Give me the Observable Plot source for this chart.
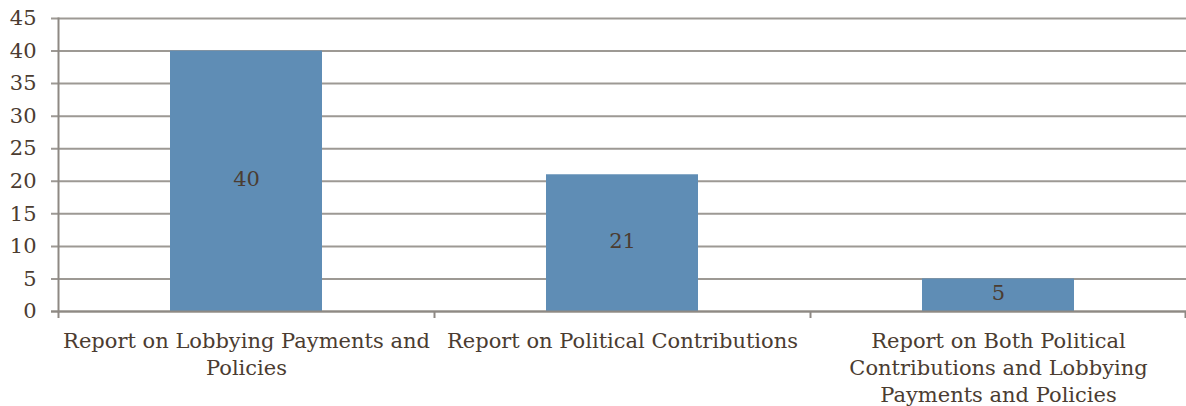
<!DOCTYPE html>
<html><head><meta charset="utf-8">
<script src="https://cdn.jsdelivr.net/npm/d3@7"></script>
<script src="https://cdn.jsdelivr.net/npm/@observablehq/plot@0.6"></script>
<style>html,body{margin:0;padding:0;background:#fff;overflow:hidden}</style>
</head><body><div id="chart"></div>
<script>
const categories = [
  "Report on Lobbying Payments and Policies",
  "Report on Political Contributions",
  "Report on Both Political Contributions and Lobbying Payments and Policies"
];
const tickLabels = [
  "Report on Lobbying Payments and\nPolicies",
  "Report on Political Contributions",
  "Report on Both Political\nContributions and Lobbying\nPayments and Policies"
];
const values = [40, 21, 5];
const yTicks = [0, 5, 10, 15, 20, 25, 30, 35, 40, 45];

const W = 1186, H = 406, mL = 58, mR = 0, mT = 18, mB = 95;
const step = (W - mL - mR) / categories.length;
const data = categories.map((c, i) => ({category: c, value: values[i], label: tickLabels[i]}));
const textColor = "#4b3c31", gridColor = "#9d9994", axisColor = "#8e8984", barColor = "#5f8db5";
const font = "'DejaVu Serif', Georgia, serif";
const fs = 21;

const chart = Plot.plot({
  width: W, height: H,
  marginLeft: mL, marginRight: mR, marginTop: mT, marginBottom: mB,
  style: {fontFamily: font, fontSize: fs + "px", color: textColor, background: "#fff", overflow: "visible"},
  x: {domain: categories, paddingInner: 0.595, paddingOuter: 0.2975, axis: null},
  y: {domain: [0, 45], axis: null},
  marks: [
    Plot.ruleY(yTicks, {y: d => d, stroke: gridColor, strokeWidth: 2, insetLeft: -7}),
    Plot.barY(data, {x: "category", y: "value", fill: barColor}),
    Plot.ruleY([0], {stroke: axisColor, strokeWidth: 2, insetLeft: -7}),
    Plot.frame({anchor: "left", stroke: axisColor, strokeWidth: 2}),
    Plot.ruleX(categories, {x: d => d, dx: -step / 2, y1: 0, y2: 0, insetBottom: -7, stroke: axisColor, strokeWidth: 2}),
    Plot.ruleX([categories[categories.length - 1]], {x: d => d, dx: step / 2 - 1, y1: 0, y2: 0, insetBottom: -7, stroke: axisColor, strokeWidth: 2}),
    Plot.text(yTicks, {y: d => d, text: d => String(d), frameAnchor: "left", textAnchor: "end", dx: -22, fill: textColor, fontSize: fs}),
    Plot.text(data, {x: "category", y: d => d.value / 2, text: d => String(d.value), dy: -2, fill: textColor, fontSize: fs}),
    Plot.text(data, {x: "category", y: 0, text: "label", lineAnchor: "top", dy: 17, lineHeight: 1.29, fill: textColor, fontSize: fs})
  ]
});
document.getElementById("chart").appendChild(chart);
</script>
</body></html>
